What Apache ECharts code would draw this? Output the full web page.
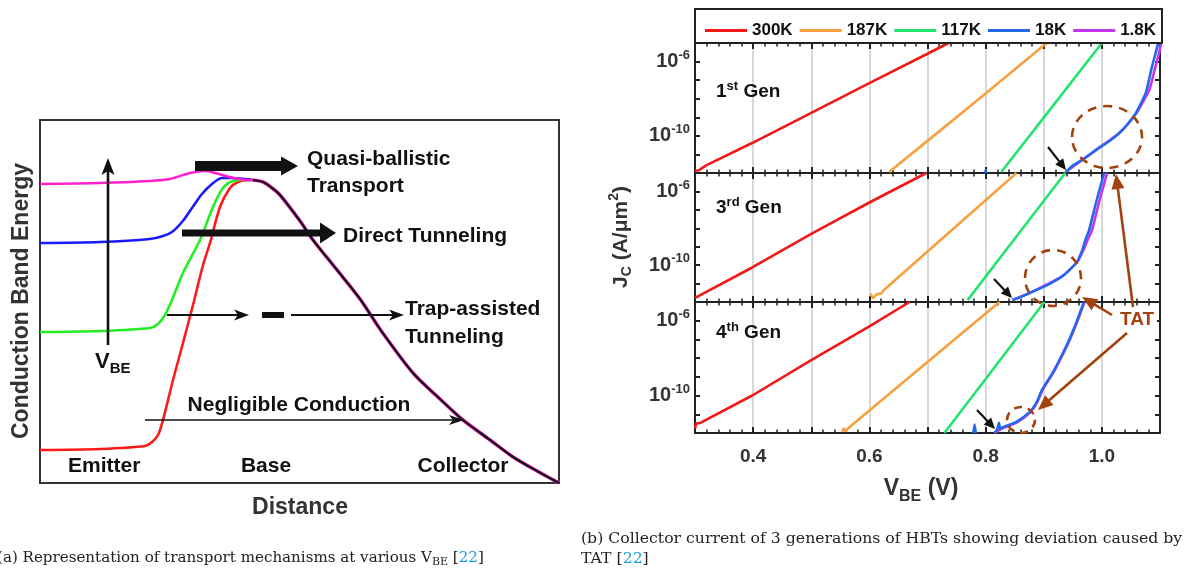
<!DOCTYPE html>
<html><head><meta charset="utf-8">
<script src="https://cdn.jsdelivr.net/npm/echarts@6/dist/echarts.min.js"></script>
<style>html,body{margin:0;padding:0;background:#fff;}#c{width:1191px;height:570px;}</style>
</head><body><div id="c"></div>
<script>
// ---------- Panel (a): band diagram (distance 0..100, energy 0..100) ----------
const bandRed = [[0,9.09],[11.56,9.37],[20.23,10.19],[21.58,11.29],[22.74,13.22],[23.70,17.36],[25.63,28.37],[27.55,38.57],[29.48,49.04],[31.41,60.06],[32.76,66.12],[34.68,76.03],[36.61,81.27],[38.15,82.92],[40.08,83.47],[41.04,83.47]];
const bandGreen = [[0,41.60],[11.56,41.87],[21.19,42.70],[22.74,43.80],[24.08,46.28],[25.43,50.41],[27.55,57.85],[30.83,66.94],[33.33,76.03],[35.26,81.27],[37.19,83.20],[39.50,83.47],[41.04,83.47]];
const bandBlue = [[0,66.12],[11.56,66.39],[21.19,67.22],[23.70,68.04],[25.43,69.15],[27.36,71.90],[29.29,75.76],[31.21,79.61],[33.14,82.37],[35.07,84.02],[36.99,84.02],[39.50,83.75],[41.04,83.47]];
const bandMagenta = [[0,82.37],[11.56,82.64],[21.19,83.20],[25.05,83.75],[27.55,84.85],[29.87,85.67],[31.79,85.95],[33.72,85.40],[37.31,84.02],[39.92,83.47],[41.04,83.47]];
const bandCollector = [[41.04,83.47],[42.97,82.92],[44.70,81.27],[46.24,79.34],[50.10,72.18],[52.60,66.94],[57.23,58.68],[61.66,50.69],[65.90,41.60],[71.87,30.30],[77.07,23.14],[81.50,17.36],[86.71,11.85],[91.14,7.16],[95.76,3.31],[100,0]];

// ---------- Panel (b): J_C vs V_BE, values are [V_BE (V), log10 J_C (A/um^2)] ----------
const temps = ['300K','187K','117K','18K','1.8K'];
const gen1_300K = [[0.300,-11.88],[0.303,-11.78],[0.307,-11.85],[0.312,-11.74],[0.32,-11.58],[0.4,-10.36],[0.5,-8.76],[0.6,-7.16],[0.7,-5.58],[0.736,-5.0]];
const gen1_187K = [[0.634,-11.95],[0.7,-10.27],[0.8,-7.72],[0.905,-5.0]];
const gen1_117K = [[0.827,-11.95],[0.9,-9.02],[1.0,-5.0]];
const gen1_18K = [[0.799,-12.0],[0.800,-11.85],[0.801,-12.0],[0.85,'-'],[0.938,-11.95],[0.950,-11.6],[0.966,-11.3],[0.995,-10.65],[1.012,-10.3],[1.030,-9.85],[1.045,-9.35],[1.059,-8.75],[1.068,-8.2],[1.076,-7.65],[1.086,-6.3],[1.092,-5.6],[1.097,-5.0]];
const gen1_1p8K = [[0.938,-11.95],[0.966,-11.3],[0.995,-10.65],[1.030,-9.85],[1.059,-8.8],[1.072,-8.1],[1.082,-7.5],[1.092,-6.3],[1.098,-5.6],[1.102,-5.0]];

const gen3_300K = [[0.300,-11.78],[0.305,-11.7],[0.4,-10.1],[0.5,-8.3],[0.6,-6.6],[0.698,-5.0]];
const gen3_187K = [[0.602,-11.55],[0.606,-11.8],[0.611,-11.62],[0.616,-11.55],[0.620,-11.55],[0.625,-11.35],[0.7,-9.26],[0.8,-6.48],[0.853,-5.0]];
const gen3_117K = [[0.769,-11.9],[0.85,-8.57],[0.937,-5.0]];
const gen3_18K = [[0.846,-11.9],[0.862,-11.7],[0.880,-11.45],[0.905,-11.1],[0.932,-10.6],[0.948,-10.15],[0.958,-9.8],[0.966,-9.2],[0.972,-8.6],[0.978,-8.1],[0.990,-6.6],[1.004,-5.0]];
const gen3_1p8K = [[0.846,-11.9],[0.880,-11.45],[0.932,-10.6],[0.958,-9.8],[0.968,-9.2],[0.976,-8.6],[0.983,-8.1],[0.995,-6.6],[1.009,-5.0]];

const gen4_300K = [[0.300,-11.75],[0.302,-11.5],[0.305,-11.6],[0.31,-11.45],[0.4,-9.97],[0.5,-8.1],[0.6,-6.3],[0.669,-5.0]];
const gen4_187K = [[0.553,-11.95],[0.556,-11.75],[0.559,-11.9],[0.565,-11.7],[0.6,-10.8],[0.7,-8.2],[0.8,-5.62],[0.824,-5.0]];
const gen4_117K = [[0.729,-12.0],[0.8,-9.11],[0.901,-5.0]];
const gen4_18K = [[0.779,-12.0],[0.781,-11.55],[0.783,-12.0],[0.8,'-'],[0.815,-12.0],[0.820,-11.8],[0.823,-11.45],[0.825,-11.8],[0.829,-11.7],[0.853,-11.4],[0.875,-10.9],[0.887,-10.4],[0.897,-9.7],[0.915,-8.8],[0.927,-8.1],[0.944,-7.0],[0.956,-6.1],[0.969,-5.0]];
const gen4_1p8K = [[0.815,-12.0],[0.829,-11.75],[0.853,-11.45],[0.875,-10.95],[0.888,-10.4],[0.898,-9.7],[0.916,-8.8],[0.928,-8.1],[0.945,-7.0],[0.957,-6.1],[0.970,-5.0]];

const panels = [
  {label:'1st', data:[gen1_300K,gen1_187K,gen1_117K,gen1_18K,gen1_1p8K]},
  {label:'3rd', data:[gen3_300K,gen3_187K,gen3_117K,gen3_18K,gen3_1p8K]},
  {label:'4th', data:[gen4_300K,gen4_187K,gen4_117K,gen4_18K,gen4_1p8K]}
];
const xTickLabels = [0.4,0.6,0.8,1.0];
const yTickLabels = [-6,-10];

// ---------- styling ----------
const F = "'Liberation Sans', Arial, sans-serif";
const SERIF = "'DejaVu Serif', 'Liberation Serif', serif";
const tempColors = ['#f01818','#f8a040','#22e46e','#2468f0','#c634ee'];
const BROWN = '#a2420e';
const INK = '#222';

const grids = [{left:40, top:120, width:519, height:363, show:true, borderColor:'#333', borderWidth:2, backgroundColor:'transparent'}];
const panelBoxes = [{top:43,height:130},{top:173,height:129},{top:302,height:131}];
panelBoxes.forEach(b => grids.push({left:695, width:465, top:b.top, height:b.height}));

const xAxes = [{gridIndex:0, type:'value', min:0, max:100, show:false}];
const yAxes = [{gridIndex:0, type:'value', min:0, max:100, show:false}];

const axLine = {onZero:false, lineStyle:{color:INK, width:2}};
const xTick = {inside:true, length:6, lineStyle:{color:INK, width:2}};
const xMinor = {show:true, splitNumber:5, length:3.5, lineStyle:{color:INK, width:1.5}};
panels.forEach((p, i) => {
  const g = i + 1;
  xAxes.push({gridIndex:g, type:'value', min:0.3, max:1.1, interval:0.1, position:'bottom',
    axisLine:axLine, axisTick:xTick, minorTick:xMinor,
    splitLine:{show:true, lineStyle:{color:'#d8d8d8', width:2}},
    axisLabel:{show:i===2, interval:0, margin:14, fontSize:19, fontWeight:'bold', color:'#333', fontFamily:F,
      formatter: v => xTickLabels.some(t => Math.abs(t - v) < 1e-6) ? v.toFixed(1) : ''}});
  xAxes.push({gridIndex:g, type:'value', min:0.3, max:1.1, interval:0.1, position:'top',
    axisLine:axLine, axisTick:xTick, minorTick:xMinor, splitLine:{show:false}, axisLabel:{show:false}});
  yAxes.push({gridIndex:g, type:'value', min:-12, max:-5, interval:1, position:'left',
    axisLine:axLine, axisTick:{inside:true, length:5, lineStyle:{color:INK, width:2}}, splitLine:{show:false},
    axisLabel:{margin:5, interval:0, color:'#333',
      formatter: v => yTickLabels.indexOf(Math.round(v)) >= 0 && Math.abs(v - Math.round(v)) < 1e-6 ? '{b|10}{s|' + Math.round(v) + '}' : '',
      rich:{b:{fontSize:20, fontWeight:'bold', fontFamily:F, color:'#333'},
            s:{fontSize:13, fontWeight:'bold', fontFamily:F, color:'#333', padding:[0,0,13,0]}}}});
  yAxes.push({gridIndex:g, type:'value', min:-12, max:-5, interval:1, position:'right',
    axisLine:axLine, axisTick:{inside:true, length:5, lineStyle:{color:INK, width:2}}, splitLine:{show:false}, axisLabel:{show:false}});
});

const series = [];
function bandLine(name, data, color, width) {
  series.push({name, type:'line', xAxisIndex:0, yAxisIndex:0, data, symbol:'none', smooth:0.3,
    lineStyle:{color, width}, itemStyle:{color}, silent:true, z:3});
}
bandLine('band-red', bandRed, '#ff1a1a', 2.6);
bandLine('band-green', bandGreen, '#22ee22', 2.6);
bandLine('band-blue', bandBlue, '#1a1aff', 2.6);
bandLine('band-magenta', bandMagenta, '#ff22cc', 2.6);
bandLine('band-collector-m', bandCollector, '#ff22cc', 3.6);
bandLine('band-collector-k', bandCollector, '#111', 2.2);

const drawOrder = [0,1,2,4,3]; // magenta below blue
panels.forEach((p, i) => {
  drawOrder.forEach(t => {
    const curvy = t >= 3;
    series.push({name:temps[t], type:'line', xAxisIndex:1+2*i, yAxisIndex:1+2*i, data:p.data[t],
      symbol:'none', smooth: curvy ? 0.2 : false, clip:true,
      lineStyle:{color:tempColors[t], width:2.6}, itemStyle:{color:tempColors[t]}, silent:true, z:3});
  });
});

// ---------- annotations ----------
function arrow(x1, y1, x2, y2, o) {
  const dx = x2 - x1, dy = y2 - y1, L = Math.hypot(dx, dy), ux = dx / L, uy = dy / L, px = -uy, py = ux;
  const hl = o.hl, hw = o.hw / 2, notch = o.notch || 0;
  const bx = x2 - ux * hl, by = y2 - uy * hl;
  const nx = x2 - ux * (hl - notch), ny = y2 - uy * (hl - notch);
  const pts = [[x2, y2], [bx + px * hw, by + py * hw], [nx, ny], [bx - px * hw, by - py * hw]];
  return [
    {type:'line', silent:true, z:100, shape:{x1, y1, x2: nx + ux * 1, y2: ny + uy * 1}, style:{stroke:o.color, lineWidth:o.w}},
    {type:'polygon', silent:true, z:100, shape:{points:pts}, style:{fill:o.color}}
  ];
}
function txt(x, y, text, o) {
  o = o || {};
  return {type:'text', x, y, silent:true, z:100, rotation:o.rot || 0,
    style:{text, fontSize:o.size || 21, fontWeight:'bold', fontFamily:o.family || F, fill:o.color || '#111',
      align:o.align || 'left', verticalAlign:'middle', rich:o.rich}};
}
const K = '#111';
const graphics = [];
// panel (a) arrows
graphics.push(...arrow(108, 345, 108, 158, {w:2.6, hl:17, hw:13, notch:4, color:K}));
graphics.push(...arrow(195, 166, 298, 166, {w:10, hl:17, hw:19, color:K}));
graphics.push(...arrow(182, 233, 336, 233, {w:7, hl:16, hw:21, color:K}));
graphics.push(...arrow(167, 315, 249, 315, {w:2, hl:15, hw:11, notch:4, color:K}));
graphics.push({type:'rect', silent:true, z:100, shape:{x:262, y:312, width:22, height:6}, style:{fill:K}});
graphics.push(...arrow(291, 315, 404, 315, {w:2, hl:15, hw:11, notch:4, color:K}));
graphics.push(...arrow(145, 420, 464, 420, {w:1.5, hl:15, hw:10, notch:4, color:K}));
// panel (a) texts
graphics.push(txt(307, 159, 'Quasi-ballistic'));
graphics.push(txt(307, 186, 'Transport'));
graphics.push(txt(343, 236, 'Direct Tunneling'));
graphics.push(txt(405, 309, 'Trap-assisted'));
graphics.push(txt(405, 337, 'Tunneling'));
graphics.push(txt(299, 405, 'Negligible Conduction', {align:'center'}));
graphics.push(txt(68, 466, 'Emitter'));
graphics.push(txt(266, 466, 'Base', {align:'center'}));
graphics.push(txt(463, 466, 'Collector', {align:'center'}));
graphics.push(txt(95, 362, '{v|V}{s|BE}', {rich:{v:{fontSize:22, fontWeight:'bold', fontFamily:F, fill:K},
  s:{fontSize:15, fontWeight:'bold', fontFamily:F, fill:K, padding:[14,0,0,0]}}}));
graphics.push(txt(300, 508, 'Distance', {size:23, color:'#333', align:'center'}));
graphics.push(txt(22, 301, 'Conduction Band Energy', {size:23, color:'#333', align:'center', rot:Math.PI/2}));

// panel (b) labels
const genY = [92, 208, 333];
panels.forEach((p, i) => {
  graphics.push(txt(716, genY[i], '{a|' + p.label[0] + '}{s|' + p.label.slice(1) + '}{a| Gen}', {rich:{
    a:{fontSize:19, fontWeight:'bold', fontFamily:F, fill:K},
    s:{fontSize:13, fontWeight:'bold', fontFamily:F, fill:K, padding:[0,0,12,0]}}}));
});
graphics.push(txt(621, 237, '{a|J}{s|C}{a| (A/μm}{p|2}{a|)}', {align:'center', rot:Math.PI/2, rich:{
  a:{fontSize:21, fontWeight:'bold', fontFamily:F, fill:'#333'},
  s:{fontSize:14, fontWeight:'bold', fontFamily:F, fill:'#333', padding:[12,0,0,0]},
  p:{fontSize:14, fontWeight:'bold', fontFamily:F, fill:'#333', padding:[0,0,13,0]}}}));
graphics.push(txt(921, 489, '{a|V}{s|BE}{a| (V)}', {align:'center', rich:{
  a:{fontSize:23, fontWeight:'bold', fontFamily:F, fill:'#333'},
  s:{fontSize:16, fontWeight:'bold', fontFamily:F, fill:'#333', padding:[15,0,0,0]}}}));
// legend box
graphics.push({type:'rect', silent:true, z:50, shape:{x:695, y:9, width:467, height:34}, style:{fill:'none', stroke:INK, lineWidth:2}});
// black arrows at onset
graphics.push(...arrow(1048, 147, 1066, 170, {w:2.2, hl:11, hw:10, color:K}));
graphics.push(...arrow(994, 279, 1012, 298, {w:2.2, hl:11, hw:10, color:K}));
graphics.push(...arrow(977, 410, 995, 429, {w:2.2, hl:11, hw:10, color:K}));
// TAT dashed circles
const dash = {fill:'none', stroke:BROWN, lineWidth:2.6, lineDash:[9,7]};
graphics.push({type:'ellipse', silent:true, z:90, shape:{cx:1107, cy:137, rx:35, ry:31}, style:dash});
graphics.push({type:'ellipse', silent:true, z:90, shape:{cx:1053, cy:278, rx:28, ry:28}, style:dash});
graphics.push({type:'ellipse', silent:true, z:90, shape:{cx:1021, cy:420, rx:14, ry:13}, style:{fill:'none', stroke:BROWN, lineWidth:2.6, lineDash:[8,6]}});
// TAT arrows + text
graphics.push(...arrow(1133, 307, 1116, 174, {w:2.6, hl:15, hw:13, color:BROWN}));
graphics.push(...arrow(1112, 315, 1082, 297, {w:2.6, hl:15, hw:13, color:BROWN}));
graphics.push(...arrow(1127, 333, 1038, 410, {w:2.6, hl:15, hw:13, color:BROWN}));
graphics.push({type:'rect', silent:true, z:95, shape:{x:1117, y:310, width:40, height:20}, style:{fill:'#fff'}});
graphics.push(txt(1137, 320, 'TAT', {size:19, color:BROWN, align:'center'}));

// captions
function capStyles(size) {
  return {t:{fontSize:size, fontFamily:SERIF, fill:'#222'},
          u:{fontSize:size * 0.73, fontFamily:SERIF, fill:'#222', padding:[9,0,0,0]},
          c:{fontSize:size, fontFamily:SERIF, fill:'#1a9ad8'}};
}
graphics.push(txt(-3, 558, '{t|(a) Representation of transport mechanisms at various V}{u|BE}{t| [}{c|22}{t|]}', {rich:capStyles(15.1)}));
graphics.push(txt(581, 539, '{t|(b) Collector current of 3 generations of HBTs showing deviation caused by}', {rich:capStyles(15.7)}));
graphics.push(txt(581, 559, '{t|TAT [}{c|22}{t|]}', {rich:capStyles(15.7)}));

const chart = echarts.init(document.getElementById('c'), null, {renderer:'canvas'});
chart.setOption({
  animation:false,
  backgroundColor:'#fff',
  grid:grids, xAxis:xAxes, yAxis:yAxes, series,
  legend:{data:temps, left:700, top:17, itemGap:7, itemWidth:42, itemHeight:3, icon:'rect', selectedMode:false,
    textStyle:{fontSize:17, fontWeight:'bold', fontFamily:F, color:'#111'}},
  graphic:{elements:graphics}
});
</script></body></html>
